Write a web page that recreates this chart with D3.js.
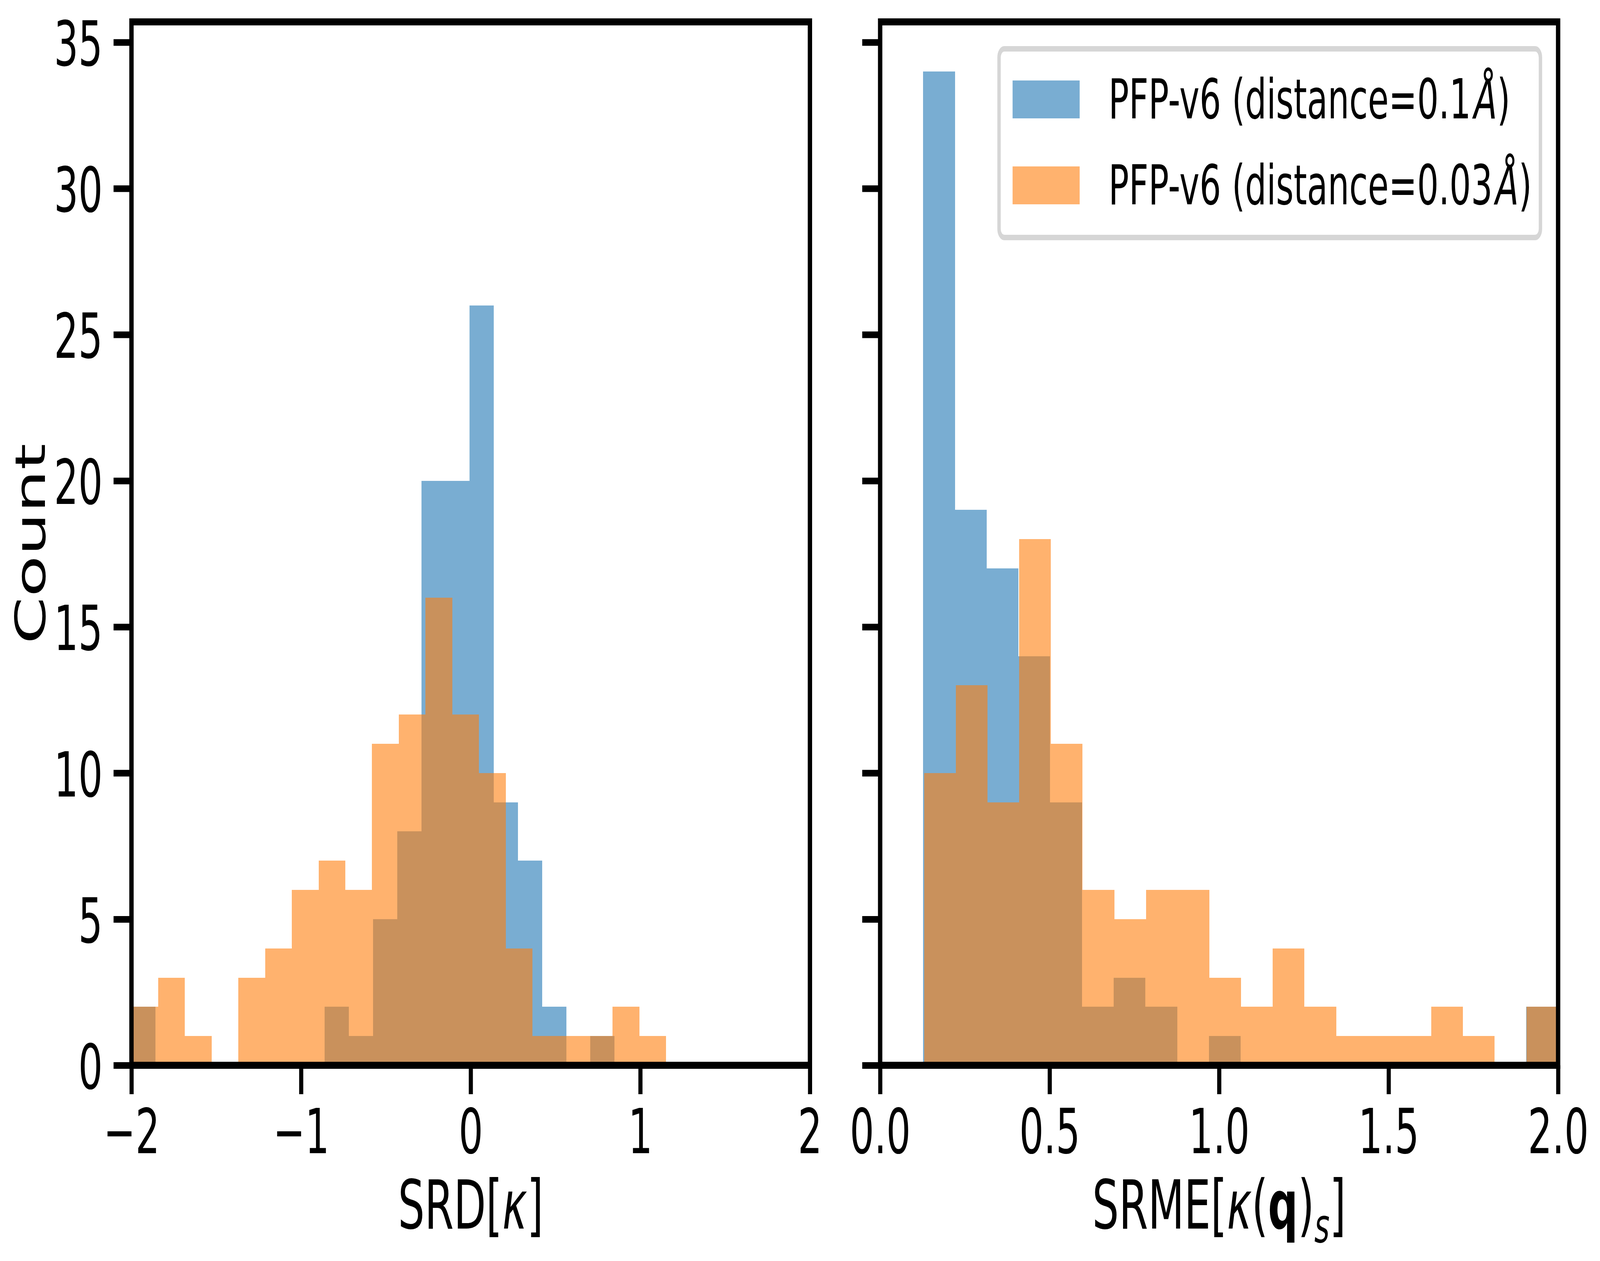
<!DOCTYPE html>
<html>
<head>
<meta charset="utf-8">
<script src="https://cdn.jsdelivr.net/npm/d3@7"></script>
<style>
  html, body { margin: 0; padding: 0; width: 100%; height: 100%; background: #fff; overflow: hidden; }
  svg { display: block; width: 100vw; height: 100vh; }
  text { font-family: "DejaVu Sans", sans-serif; fill: #000; }
</style>
</head>
<body>
<!-- drawn in the reference's 6608x3228 units, stretched to whatever window we get -->
<svg id="chart" viewBox="0 0 6608 3228" preserveAspectRatio="none"></svg>
<script>
// Left panel: SRD[kappa], 20 bins per series (range = min/max of the data)
var srdRangeBlue = [-2.0, 0.848];
var srdCountsBlue = [2, 0, 0, 0, 0, 0, 0, 0, 2, 1, 5, 8, 20, 20, 26, 9, 7, 2, 0, 1];
var srdRangeOrange = [-2.0, 1.152];
var srdCountsOrange = [2, 3, 1, 0, 3, 4, 6, 7, 6, 11, 12, 16, 12, 10, 4, 1, 1, 1, 2, 1];

// Right panel: SRME[kappa(q)_s]
var srmeRangeBlue = [0.127, 2.0];
var srmeCountsBlue = [34, 19, 17, 14, 9, 2, 3, 2, 0, 1, 0, 0, 0, 0, 0, 0, 0, 0, 0, 2];
var srmeRangeOrange = [0.1295, 2.0];
var srmeCountsOrange = [10, 13, 9, 18, 11, 6, 5, 6, 6, 3, 2, 4, 2, 1, 1, 1, 2, 1, 0, 2];

// Axis ticks and legend
var srdTicks = [-2, -1, 0, 1, 2];
var srmeTicks = [0, 0.5, 1.0, 1.5, 2.0];
var countTicks = [0, 5, 10, 15, 20, 25, 30, 35];
var legendLabels = ["PFP-v6 (distance=0.1", "PFP-v6 (distance=0.03"];

var blue = "rgba(31,119,180,0.6)";
var orange = "rgba(255,127,14,0.6)";

var svg = d3.select("#chart");

// shared y scale (sharey)
var axTop = 56, axBottom = 2727;
var y = d3.scaleLinear().domain([0, 35.7]).range([axBottom, axTop]);

// turn a range + counts into bins like numpy.histogram
function makeBins(range, counts) {
  var n = counts.length;
  var w = (range[1] - range[0]) / n;
  return counts.map(function (c, i) {
    return { x0: range[0] + i * w, x1: range[0] + (i + 1) * w, count: c };
  });
}

function drawPanel(opts) {
  var x = d3.scaleLinear().domain(opts.domain).range([opts.left, opts.right]);
  var g = svg.append("g");

  // clip the bars to the axes box
  g.append("clipPath").attr("id", opts.id + "-clip")
    .append("rect")
    .attr("x", opts.left).attr("y", axTop)
    .attr("width", opts.right - opts.left).attr("height", axBottom - axTop);

  var bars = g.append("g").attr("clip-path", "url(#" + opts.id + "-clip)");
  opts.series.forEach(function (s) {
    bars.append("g").selectAll("rect")
      .data(makeBins(s.range, s.counts).filter(function (d) { return d.count > 0; }))
      .enter().append("rect")
      .attr("x", function (d) { return x(d.x0); })
      .attr("width", function (d) { return x(d.x1) - x(d.x0); })
      .attr("y", function (d) { return y(d.count); })
      .attr("height", function (d) { return y(0) - y(d.count); })
      .attr("fill", s.color)
      .attr("shape-rendering", "crispEdges");
  });

  // x axis
  var xAxis = d3.axisBottom(x).tickValues(opts.ticks).tickFormat(opts.format)
    .tickSize(74).tickSizeOuter(0).tickPadding(39);
  var gx = g.append("g").attr("transform", "translate(0," + axBottom + ")").call(xAxis);
  styleAxis(gx);

  // y axis
  var yAxis = d3.axisLeft(y).tickValues(countTicks).tickFormat(d3.format("d"))
    .tickSize(74).tickSizeOuter(0).tickPadding(45);
  var gy = g.append("g").attr("transform", "translate(" + opts.left + ",0)").call(yAxis);
  styleAxis(gy);
  gy.selectAll("text").attr("dy", "0.375em");
  if (!opts.yLabels) gy.selectAll("text").remove();

  // spines
  g.append("rect")
    .attr("x", opts.left).attr("y", axTop)
    .attr("width", opts.right - opts.left).attr("height", axBottom - axTop)
    .attr("fill", "none").attr("stroke", "#000").attr("stroke-width", 18);

  return g;
}

function styleAxis(ax) {
  ax.attr("font-size", null).attr("font-family", null);
  ax.select(".domain").remove();
  ax.selectAll(".tick line").attr("stroke", "#000").attr("stroke-width", 17);
  ax.selectAll(".tick text")
    .style("font-family", "'DejaVu Sans', sans-serif")
    .style("font-size", "158px")
    .attr("fill", "#000");
}

drawPanel({
  id: "srd", left: 543, right: 3345, domain: [-2, 2],
  ticks: srdTicks, format: d3.format("d"), yLabels: true,
  series: [
    { range: srdRangeBlue, counts: srdCountsBlue, color: blue },
    { range: srdRangeOrange, counts: srdCountsOrange, color: orange }
  ]
});

drawPanel({
  id: "srme", left: 3635, right: 6435, domain: [0, 2],
  ticks: srmeTicks, format: d3.format(".1f"), yLabels: false,
  series: [
    { range: srmeRangeBlue, counts: srmeCountsBlue, color: blue },
    { range: srmeRangeOrange, counts: srmeCountsOrange, color: orange }
  ]
});

// axis labels
var lab1 = svg.append("text").attr("x", 1944).attr("y", 3145)
  .attr("text-anchor", "middle").style("font-size", "173px");
lab1.append("tspan").text("SRD[");
lab1.append("tspan").style("font-style", "italic").text("\u03BA");
lab1.append("tspan").text("]");

var lab2 = svg.append("text").attr("x", 5035).attr("y", 3145)
  .attr("text-anchor", "middle").style("font-size", "173px");
lab2.append("tspan").text("SRME[");
lab2.append("tspan").style("font-style", "italic").text("\u03BA");
lab2.append("tspan").text("(");
lab2.append("tspan").style("font-weight", "bold").text("q");
lab2.append("tspan").text(")");
lab2.append("tspan").style("font-style", "italic").style("font-size", "121px").attr("dy", 35).text("s");
lab2.append("tspan").attr("dy", -35).text("]");

svg.append("text")
  .attr("transform", "translate(186,1392) rotate(-90)")
  .attr("text-anchor", "middle").style("font-size", "173px")
  .text("Count");

// legend
var legend = svg.append("g");
legend.append("rect")
  .attr("x", 4126).attr("y", 125).attr("width", 2236).attr("height", 483)
  .attr("rx", 22).attr("ry", 22)
  .attr("fill", "rgba(255,255,255,0.8)")
  .attr("stroke", "#d6d6d6").attr("stroke-width", 14);

[blue, orange].forEach(function (c, i) {
  var base = 303 + i * 220;
  legend.append("rect")
    .attr("x", 4182).attr("y", base - 97).attr("width", 277).attr("height", 97)
    .attr("fill", c);
  var t = legend.append("text").attr("x", 4578).attr("y", base).style("font-size", "140px");
  t.append("tspan").text(legendLabels[i]);
  t.append("tspan").attr("dx", 12).style("font-style", "italic").text("\u00C5");
  t.append("tspan").text(")");
});
</script>
</body>
</html>
